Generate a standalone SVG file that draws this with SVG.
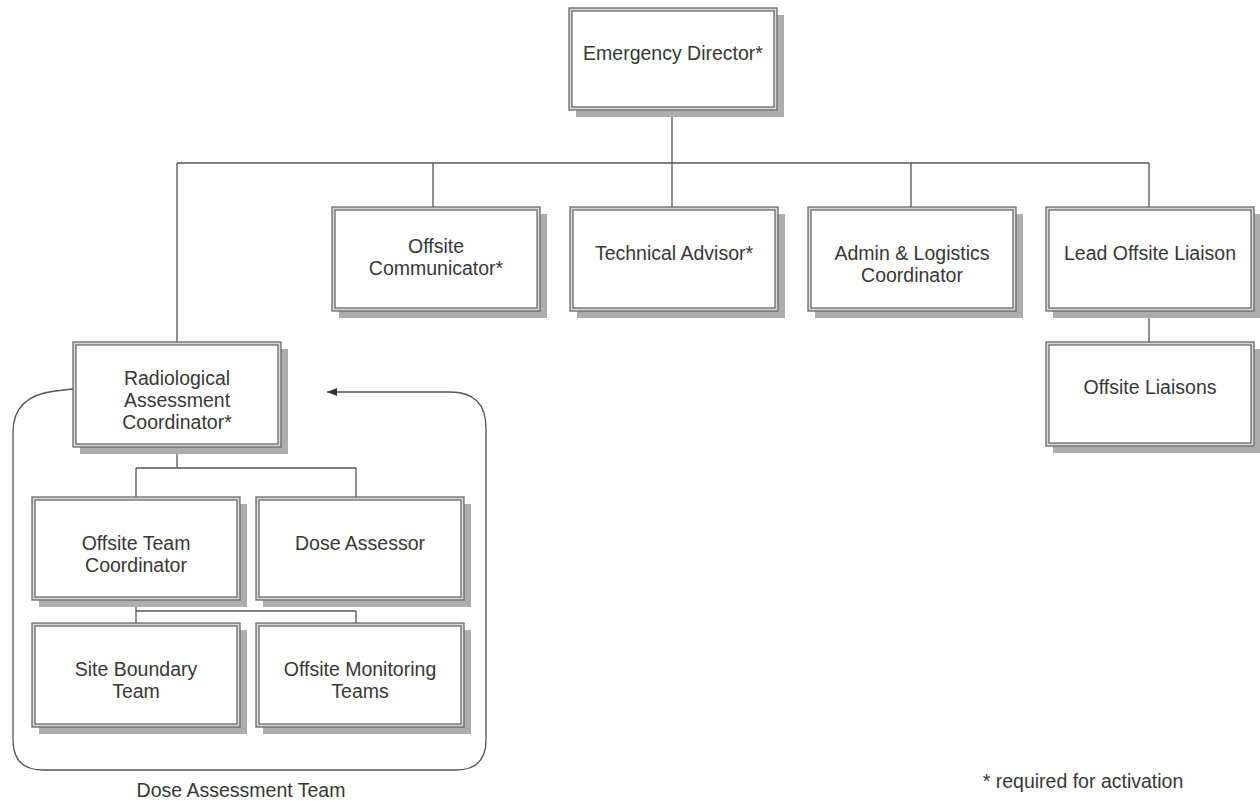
<svg xmlns="http://www.w3.org/2000/svg" width="1260" height="801" viewBox="0 0 1260 801">
<style>
.sh{fill:#adadad}
.o{fill:#d8d8d8;stroke:#6a6a6a;stroke-width:1.3}
.i{fill:#fff;stroke:#6a6a6a;stroke-width:1.3}
text{font-family:"Liberation Sans",Arial,sans-serif;font-size:19.5px;fill:#383838;text-anchor:middle}
.c{fill:none;stroke:#555;stroke-width:1.3}
</style>
<defs>
<marker id="ah" viewBox="0 0 10 10" refX="10" refY="5" markerWidth="10" markerHeight="10" markerUnits="userSpaceOnUse" orient="auto">
<path d="M0,1 L10,5 L0,9 Z" fill="#333"/>
</marker>
</defs>
<rect width="1260" height="801" fill="#fff"/>
<g id="connectors">
<path class="c" d="M672,110 V163 M177,163 H1149 M177,163 V342 M433,163 V207 M672,163 V207 M911,163 V207 M1149,163 V207 M1149,311 V342"/>
<path class="c" d="M177,447 V468 M136,468 H356 M136,468 V497 M356,468 V497"/>
<path class="c" d="M136,600 V611 M136,611 H356 M136,611 V623 M356,611 V623"/>
<path class="c" d="M73,389 L55,391 Q13,396 13,432 L13,740 Q13,770 43,770 L456,770 Q486,770 486,740 L486,428 Q486,392 450,392 L327,392" marker-end="url(#ah)"/>
</g>
<g id="n-ed"><rect class="sh" x="576" y="15" width="208" height="102"/><rect class="o" x="569" y="8" width="208" height="102"/><rect class="i" x="572" y="11" width="202" height="96"/><text x="673" y="60">Emergency Director*</text></g>
<g id="n-oc"><rect class="sh" x="339" y="214" width="208" height="104"/><rect class="o" x="332" y="207" width="208" height="104"/><rect class="i" x="335" y="210" width="202" height="98"/><text x="436" y="253">Offsite</text><text x="436" y="275">Communicator*</text></g>
<g id="n-ta"><rect class="sh" x="577" y="214" width="208" height="104"/><rect class="o" x="570" y="207" width="208" height="104"/><rect class="i" x="573" y="210" width="202" height="98"/><text x="674" y="260">Technical Advisor*</text></g>
<g id="n-al"><rect class="sh" x="815" y="214" width="208" height="104"/><rect class="o" x="808" y="207" width="208" height="104"/><rect class="i" x="811" y="210" width="202" height="98"/><text x="912" y="260">Admin &amp; Logistics</text><text x="912" y="282">Coordinator</text></g>
<g id="n-lol"><rect class="sh" x="1053" y="214" width="208" height="104"/><rect class="o" x="1046" y="207" width="208" height="104"/><rect class="i" x="1049" y="210" width="202" height="98"/><text x="1150" y="260">Lead Offsite Liaison</text></g>
<g id="n-ol"><rect class="sh" x="1053" y="349" width="208" height="104"/><rect class="o" x="1046" y="342" width="208" height="104"/><rect class="i" x="1049" y="345" width="202" height="98"/><text x="1150" y="394">Offsite Liaisons</text></g>
<g id="n-rac"><rect class="sh" x="80" y="349" width="208" height="105"/><rect class="o" x="73" y="342" width="208" height="105"/><rect class="i" x="76" y="345" width="202" height="99"/><text x="177" y="385">Radiological</text><text x="177" y="407">Assessment</text><text x="177" y="429">Coordinator*</text></g>
<g id="n-otc"><rect class="sh" x="39" y="504" width="208" height="103"/><rect class="o" x="32" y="497" width="208" height="103"/><rect class="i" x="35" y="500" width="202" height="97"/><text x="136" y="550">Offsite Team</text><text x="136" y="572">Coordinator</text></g>
<g id="n-da"><rect class="sh" x="263" y="504" width="208" height="103"/><rect class="o" x="256" y="497" width="208" height="103"/><rect class="i" x="259" y="500" width="202" height="97"/><text x="360" y="550">Dose Assessor</text></g>
<g id="n-sbt"><rect class="sh" x="39" y="630" width="208" height="104"/><rect class="o" x="32" y="623" width="208" height="104"/><rect class="i" x="35" y="626" width="202" height="98"/><text x="136" y="676">Site Boundary</text><text x="136" y="698">Team</text></g>
<g id="n-omt"><rect class="sh" x="263" y="630" width="208" height="104"/><rect class="o" x="256" y="623" width="208" height="104"/><rect class="i" x="259" y="626" width="202" height="98"/><text x="360" y="676">Offsite Monitoring</text><text x="360" y="698">Teams</text></g>
<text x="241" y="797">Dose Assessment Team</text>
<text x="1083" y="788">* required for activation</text>
</svg>
